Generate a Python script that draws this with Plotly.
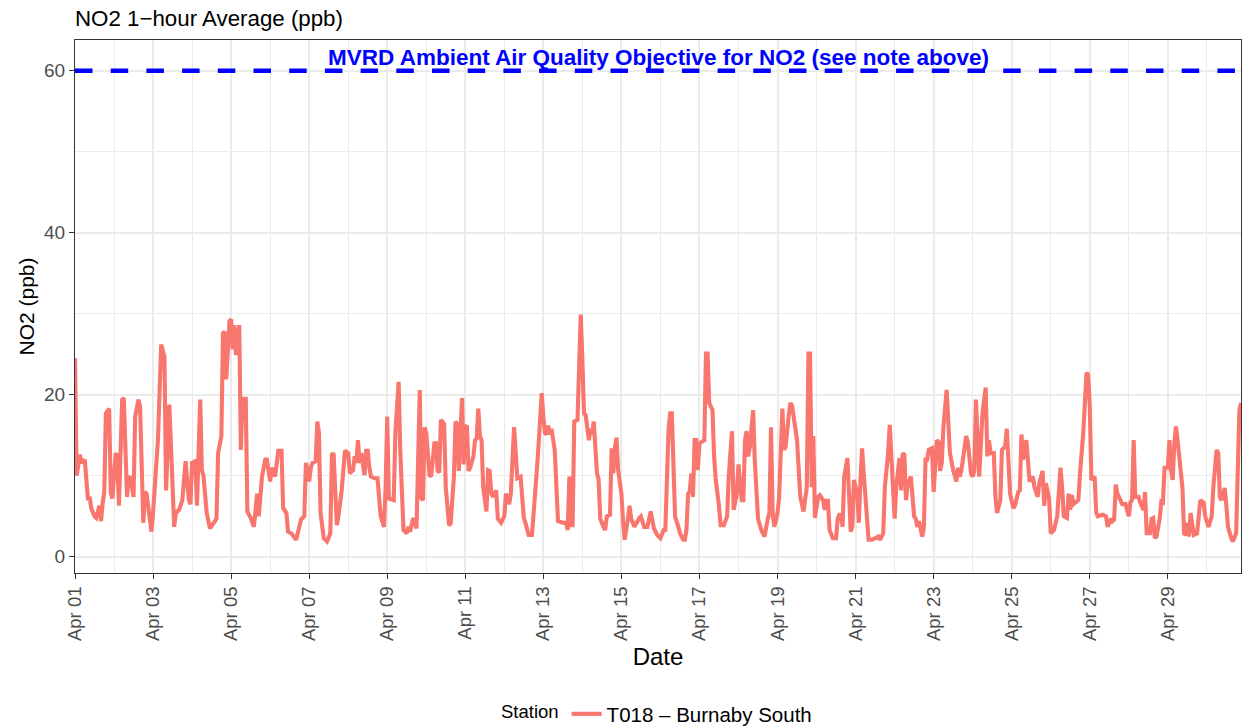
import pandas as pd
import plotly.graph_objects as go

# ---- data (hour offset from Apr 01 00:00, NO2 ppb) ----
hours = [0, 1, 3, 4, 6, 8, 9, 10, 12, 13, 15, 16, 17, 18, 19, 21, 22, 23, 25, 26, 27, 29, 30, 32, 33, 34, 36, 37, 39, 40,
         42, 43, 44, 46, 47, 48, 50, 51, 53, 55, 56, 58, 61, 62, 64, 66, 68, 70, 71, 72, 74, 75, 77, 78, 79, 81, 83, 85, 87, 88,
         90, 91, 92, 93, 95, 96, 97, 98, 99, 101, 102, 103, 105, 106, 108, 110, 112, 113, 115, 117, 118, 120, 121, 123, 125, 127, 128, 130, 131, 133,
         136, 139, 141, 142, 144, 145, 146, 148, 149, 150, 151, 153, 155, 157, 158, 159, 161, 162, 164, 166, 168, 169, 171, 172, 173, 174, 175, 176, 178, 179,
         180, 181, 182, 184, 186, 188, 190, 191, 192, 193, 195, 196, 197, 199, 200, 202, 204, 205, 206, 208, 210, 212, 213, 214, 215, 216, 218, 219, 221, 222,
         223, 224, 225, 226, 227, 228, 229, 230, 231, 233, 234, 235, 236, 238, 239, 240, 241, 242, 243, 245, 246, 247, 248, 249, 250, 251, 253, 254, 255, 256,
         257, 259, 260, 262, 264, 265, 267, 268, 270, 271, 272, 274, 276, 277, 279, 281, 282, 284, 285, 286, 287, 288, 289, 290, 291, 292, 293, 295, 296, 297,
         300, 302, 303, 304, 305, 306, 307, 309, 310, 311, 312, 313, 314, 315, 316, 317, 318, 319, 321, 322, 323, 325, 326, 327, 329, 330, 331, 332, 333, 334,
         336, 337, 338, 340, 341, 342, 344, 347, 348, 350, 352, 354, 356, 358, 360, 362, 363, 365, 366, 367, 368, 369, 371, 372, 374, 375, 376, 377, 378, 379,
         380, 381, 382, 383, 384, 386, 387, 388, 389, 390, 391, 392, 393, 394, 396, 397, 399, 401, 402, 404, 405, 407, 408, 410, 411, 412, 413, 414, 415, 417,
         418, 419, 420, 422, 424, 426, 427, 428, 429, 430, 432, 433, 435, 436, 437, 439, 440, 441, 443, 444, 446, 448, 450, 451, 452, 453, 454, 455, 457, 458,
         460, 461, 462, 463, 464, 466, 468, 469, 470, 471, 472, 473, 475, 476, 477, 478, 479, 481, 482, 483, 484, 485, 487, 488, 490, 492, 494, 495, 497, 498,
         500, 501, 502, 503, 504, 505, 507, 508, 509, 510, 511, 512, 514, 516, 517, 518, 519, 521, 522, 523, 524, 525, 527, 528, 529, 530, 531, 532, 533, 534,
         536, 537, 538, 540, 542, 543, 544, 545, 546, 548, 549, 550, 551, 552, 553, 554, 556, 557, 558, 560, 561, 562, 563, 565, 566, 567, 569, 570, 572, 573,
         574, 575, 577, 578, 580, 581, 582, 583, 585, 586, 587, 589, 590, 592, 593, 595, 596, 597, 598, 599, 600, 602, 604, 605, 606, 607, 608, 610, 611, 612,
         613, 614, 615, 617, 618, 620, 622, 623, 624, 625, 627, 628, 629, 631, 632, 634, 635, 637, 638, 639, 640, 641, 643, 644, 646, 648, 649, 650, 651, 652,
         654, 655, 657, 658, 659, 661, 662, 663, 664, 665, 667, 668, 669, 670, 672, 673, 674, 675, 676, 677, 678, 680, 681, 682, 683, 684, 685, 686, 687, 688,
         690, 692, 694, 695, 697, 699, 700, 702, 703, 704, 705, 707, 708, 709, 711, 712, 714, 715, 716, 717]

no2 = [24.5, 10.0, 12.6, 11.6, 12.0, 7.0, 7.4, 6.0, 5.0, 4.8, 6.3, 4.4, 6.6, 8.0, 17.7, 18.3, 7.9, 7.2, 12.8, 12.4, 6.3, 19.4, 19.6, 7.4, 9.7, 9.9, 7.4, 17.3, 19.4, 18.6,
       4.2, 8.0, 7.8, 4.2, 3.1, 5.4, 12.8, 14.4, 26.2, 24.7, 8.2, 18.8, 3.7, 5.4, 5.8, 7.0, 11.8, 7.0, 6.5, 11.6, 11.8, 6.3, 19.4, 10.7, 10.0, 5.4, 3.5, 4.1, 4.7, 12.8,
       14.9, 27.6, 27.8, 21.9, 29.1, 29.3, 25.6, 28.6, 24.9, 28.6, 13.2, 19.5, 19.5, 5.6, 4.8, 3.7, 7.8, 5.0, 9.9, 12.0, 12.0, 9.3, 11.0, 9.9, 13.1, 13.1, 6.0, 5.4, 3.1, 2.9,
       2.1, 4.6, 5.0, 11.6, 9.3, 11.0, 11.6, 11.8, 16.7, 15.3, 5.4, 2.3, 1.9, 2.9, 12.6, 12.8, 3.9, 5.0, 8.2, 13.1, 12.8, 10.3, 10.7, 12.4, 11.6, 14.4, 11.6, 12.8, 10.1, 13.1,
       13.1, 11.0, 9.9, 9.7, 9.7, 5.0, 3.7, 8.6, 17.3, 7.2, 7.0, 7.0, 15.3, 21.6, 13.2, 3.3, 2.9, 3.7, 3.1, 4.8, 3.5, 20.6, 7.2, 7.0, 16.0, 15.3, 10.1, 9.9, 14.0, 14.0,
       10.6, 10.4, 16.9, 16.7, 16.4, 8.6, 5.8, 3.9, 4.1, 9.9, 16.7, 16.4, 10.6, 19.6, 11.4, 16.0, 16.2, 10.6, 11.0, 12.4, 14.4, 14.6, 18.3, 14.9, 14.4, 8.6, 5.6, 10.7, 10.6, 7.8,
       7.4, 8.2, 4.7, 4.2, 5.0, 7.8, 6.5, 7.8, 16.0, 11.6, 9.7, 9.9, 4.8, 4.2, 2.7, 2.7, 5.0, 10.7, 13.6, 18.0, 20.2, 17.3, 15.3, 15.1, 16.2, 15.1, 15.8, 13.2, 8.6, 4.4,
       4.2, 4.2, 3.3, 9.9, 3.9, 3.9, 16.7, 16.9, 23.5, 29.9, 24.3, 17.7, 17.5, 15.3, 14.4, 15.8, 15.1, 16.7, 10.3, 9.5, 4.7, 3.7, 3.3, 5.0, 5.2, 13.4, 10.3, 13.4, 14.7, 10.7,
       7.8, 4.4, 2.1, 4.7, 6.3, 4.7, 3.7, 4.8, 5.0, 3.7, 3.7, 5.6, 3.5, 2.7, 2.3, 3.3, 3.3, 15.7, 17.7, 17.7, 12.0, 5.0, 3.7, 2.9, 2.1, 2.1, 3.3, 7.8, 8.0, 10.3,
       7.4, 14.4, 14.4, 10.7, 14.0, 14.2, 14.4, 25.1, 25.1, 19.0, 18.6, 18.1, 12.4, 9.5, 6.3, 3.9, 3.9, 5.0, 9.9, 15.5, 5.8, 7.8, 11.4, 7.0, 7.0, 14.4, 15.5, 12.4, 13.6, 18.1,
       12.0, 8.6, 4.7, 3.3, 2.5, 4.7, 5.4, 16.0, 5.4, 3.7, 5.4, 7.4, 18.3, 13.2, 13.6, 17.7, 19.0, 18.6, 16.1, 14.4, 7.4, 5.6, 8.6, 25.1, 25.1, 8.6, 14.9, 4.8, 7.4, 7.6,
       7.0, 5.8, 6.9, 6.9, 3.3, 2.3, 2.3, 4.7, 5.2, 5.2, 3.7, 9.9, 12.2, 8.6, 3.1, 3.7, 9.5, 7.8, 4.2, 9.5, 13.4, 10.3, 5.0, 2.1, 2.1, 2.3, 2.5, 2.1, 2.9, 8.6,
       12.8, 16.3, 12.4, 7.0, 4.7, 8.6, 12.2, 8.2, 12.8, 12.6, 7.0, 8.9, 9.9, 5.0, 4.7, 3.7, 4.4, 2.5, 3.7, 12.0, 12.0, 13.2, 13.4, 8.0, 12.6, 14.4, 14.2, 10.6, 11.6, 16.0,
       20.6, 17.3, 12.8, 10.7, 9.3, 11.0, 9.9, 10.6, 12.4, 14.9, 14.2, 12.0, 10.3, 9.9, 10.6, 19.4, 9.9, 13.6, 17.7, 20.9, 12.4, 14.4, 12.8, 12.8, 7.4, 5.4, 7.0, 13.2, 13.6, 15.8,
       12.0, 7.8, 6.0, 6.3, 8.0, 8.2, 15.1, 12.0, 14.4, 12.0, 9.3, 9.9, 8.6, 7.4, 9.1, 10.6, 6.3, 9.1, 8.2, 7.2, 2.9, 3.3, 5.0, 7.8, 11.0, 8.6, 5.0, 4.8, 7.8, 5.8,
       7.6, 6.5, 6.7, 7.0, 10.3, 15.3, 22.7, 22.5, 18.6, 9.5, 9.9, 5.4, 5.0, 5.2, 5.2, 5.0, 3.7, 4.7, 4.4, 4.6, 8.9, 7.8, 6.8, 6.5, 6.5, 5.0, 6.7, 7.0, 14.4, 7.4,
       7.4, 6.7, 5.8, 8.0, 2.9, 2.9, 4.7, 4.8, 2.3, 2.5, 4.7, 6.8, 6.7, 11.0, 11.0, 14.4, 10.7, 9.5, 14.0, 16.1, 14.4, 9.9, 8.5, 2.9, 2.7, 4.2, 2.5, 5.4, 3.7, 2.7,
       2.9, 7.0, 6.7, 5.0, 3.7, 5.0, 8.6, 13.2, 12.8, 7.4, 7.0, 8.5, 6.3, 3.7, 2.3, 1.9, 2.9, 10.3, 18.1, 19.0]

station = "T018 \u2013 Burnaby South"
objective_value = 60
objective_label = "MVRD Ambient Air Quality Objective for NO2 (see note above)"
y_ticks = [0, 20, 40, 60]

start = pd.Timestamp("2021-04-01 00:00")
times = [start + pd.Timedelta(hours=h) for h in hours]

FONT = "Liberation Sans, Arial, Helvetica, sans-serif"
GRID = "#EBEBEB"
AX = "#333333"

fig = go.Figure()
fig.add_trace(go.Scatter(
    x=times, y=no2, mode="lines", name=station,
    line=dict(color="#F8766D", width=4.1),
))

fig.add_hline(y=objective_value, line=dict(color="#0000FF", width=4.5, dash="17.5px,18.2px"), layer="above")

fig.add_annotation(
    x=0.5, xref="paper", y=61.7, yref="y",
    text="<b>" + objective_label + "</b>", showarrow=False,
    font=dict(family=FONT, size=22.5, color="#0000FF"),
    xanchor="center", yanchor="middle",
)

fig.update_layout(
    width=1243, height=727,
    paper_bgcolor="white", plot_bgcolor="white",
    margin=dict(l=75, r=2, t=40, b=154, autoexpand=False),
    font=dict(family=FONT, color="black"),
    title=dict(text="NO2 1\u2212hour Average (ppb)", x=0, xref="paper", xanchor="left",
               y=1 - 18 / 727, yref="container", yanchor="middle",
               font=dict(family=FONT, size=22.3, color="black")),
    showlegend=True,
    legend=dict(orientation="h", x=0.5, xanchor="center", xref="paper",
                y=-(714 - 573) / 533, yref="paper", yanchor="middle",
                title=dict(text="Station", side="left", font=dict(size=18.5, color="black")),
                font=dict(family=FONT, size=20.5, color="black")),
)

fig.update_xaxes(
    type="date", automargin=False,
    range=[start, start + pd.Timedelta(hours=hours[-1])],
    tick0=start, dtick=2 * 86400000, tickformat="%b %d", tickangle=-90,
    tickfont=dict(family=FONT, size=18.5, color="#4D4D4D"),
    showgrid=True, gridcolor=GRID, gridwidth=1.6,
    minor=dict(dtick=86400000, tick0=start, showgrid=True, gridcolor=GRID, gridwidth=0.9, ticks=""),
    showline=True, linecolor=AX, linewidth=1.2, mirror=True,
    ticks="outside", ticklen=5, tickcolor=AX, tickwidth=1.2,
    zeroline=False,
    title=dict(text="Date", font=dict(family=FONT, size=24, color="black"), standoff=8),
)
fig.update_yaxes(
    automargin=False,
    range=[-2.0, 63.8],
    tickvals=y_ticks,
    tickfont=dict(family=FONT, size=19, color="#4D4D4D"),
    showgrid=True, gridcolor=GRID, gridwidth=1.6,
    minor=dict(dtick=10, showgrid=True, gridcolor=GRID, gridwidth=0.9, ticks=""),
    showline=True, linecolor=AX, linewidth=1.2, mirror=True,
    ticks="outside", ticklen=5, tickcolor=AX, tickwidth=1.2,
    zeroline=False,
    title=dict(text="NO2 (ppb)", font=dict(family=FONT, size=21, color="black"), standoff=3),
)

fig.write_html("out.html",
               config={"displayModeBar": False},
               post_script="document.body.style.margin='0';document.body.style.overflow='hidden';")
